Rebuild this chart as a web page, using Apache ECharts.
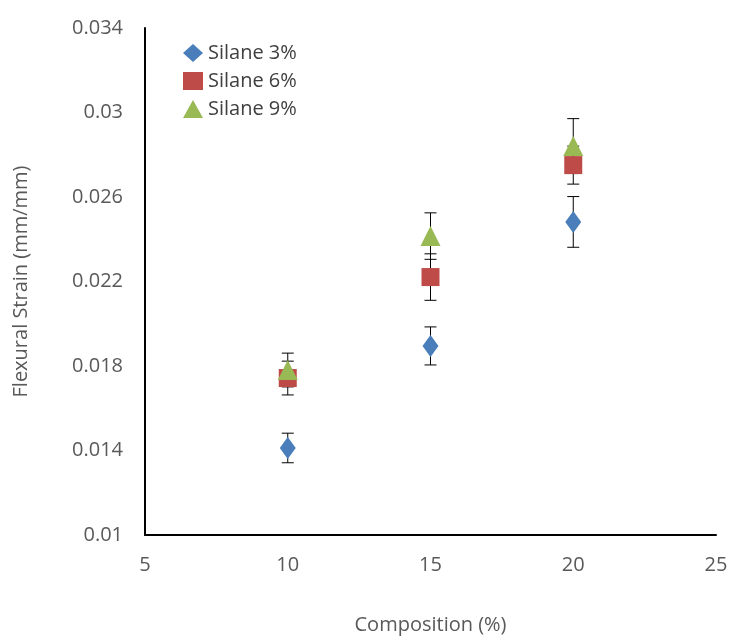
<!DOCTYPE html>
<html><head><meta charset="utf-8">
<script src="https://cdn.jsdelivr.net/npm/echarts@6/dist/echarts.min.js"></script>
<style>html,body{margin:0;background:#fff}#c{width:734px;height:640px}</style>
</head><body><div id="c"></div>
<script>
var xs = [10, 15, 20];
var silane3 = [0.01412, 0.01895, 0.02482];
var silane3Err = [0.0007, 0.0009, 0.0012];
var silane6 = [0.01743, 0.02221, 0.02751];
var silane6Err = [0.0008, 0.0011, 0.0009];
var silane9 = [0.01781, 0.02415, 0.02841];
var silane9Err = [0.0008, 0.0011, 0.0013];

function pts(v){ return xs.map(function(x,i){ return [x, v[i]]; }); }
function errSeries(v, e){
	return {
		type:'custom', silent:true, z:1,
		data: xs.map(function(x,i){ return [x, v[i]-e[i], v[i]+e[i]]; }),
		renderItem:function(p, api){
			var lo = api.coord([api.value(0), api.value(1)]);
			var hi = api.coord([api.value(0), api.value(2)]);
			var w = 6, st = {stroke:'#000', lineWidth:1};
			return {type:'group', children:[
				{type:'line', shape:{x1:lo[0],y1:lo[1],x2:hi[0],y2:hi[1]}, style:st},
				{type:'line', shape:{x1:lo[0]-w,y1:lo[1],x2:lo[0]+w,y2:lo[1]}, style:st},
				{type:'line', shape:{x1:hi[0]-w,y1:hi[1],x2:hi[0]+w,y2:hi[1]}, style:st}
			]};
		}
	};
}
var txt = {color:'#595959', fontSize:20, fontFamily:'Open Sans'};
var chart = echarts.init(document.getElementById('c'));
chart.setOption({
	animation:false,
	grid:{left:145, right:18, top:28, bottom:105, containLabel:false, outerBoundsMode:'none'},
	legend:{orient:'vertical', left:178, top:38, itemGap:8, itemWidth:20, itemHeight:18,
		textStyle:{color:'#404040', fontSize:20, fontFamily:'Open Sans'},
		data:['Silane 3%','Silane 6%','Silane 9%']},
	xAxis:{type:'value', min:5, max:25, interval:5, name:'Composition (%)', nameLocation:'middle', nameGap:80,
		nameTextStyle:txt, axisLabel:Object.assign({margin:20}, txt), splitLine:{show:false},
		axisLine:{lineStyle:{color:'#000', width:2}}, axisTick:{show:false}},
	yAxis:{type:'value', min:0.01, max:0.034, interval:0.004, name:'Flexural Strain (mm/mm)', nameLocation:'middle', nameGap:114,
		nameTextStyle:txt, axisLabel:Object.assign({margin:22}, txt), splitLine:{show:false},
		axisLine:{show:true, lineStyle:{color:'#000', width:2}}, axisTick:{show:false}},
	series:[
		errSeries(silane3, silane3Err), errSeries(silane6, silane6Err), errSeries(silane9, silane9Err),
		{name:'Silane 3%', type:'scatter', symbol:'diamond', symbolSize:[16,22], itemStyle:{color:'#4A7EBB', opacity:1}, data:pts(silane3), z:3},
		{name:'Silane 6%', type:'scatter', symbol:'rect', symbolSize:18, itemStyle:{color:'#BE4B48', opacity:1}, data:pts(silane6), z:3},
		{name:'Silane 9%', type:'scatter', symbol:'triangle', symbolSize:20, itemStyle:{color:'#98B954', opacity:1}, data:pts(silane9), z:3}
	]
});
</script></body></html>
